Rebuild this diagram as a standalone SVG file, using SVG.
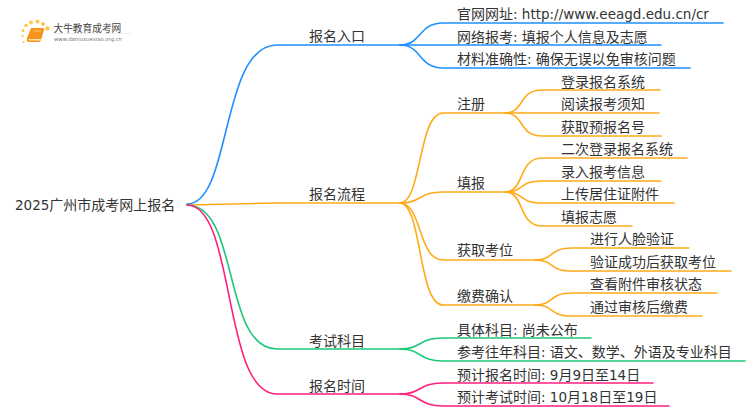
<svg xmlns="http://www.w3.org/2000/svg" width="750" height="410" viewBox="0 0 750 410">
<style>
text{font-family:"DejaVu Sans","Noto Sans CJK SC",sans-serif;font-size:14px;fill:#333}
tspan{font-size:13.5px}
.c{fill:none;stroke-width:1.6;stroke-linecap:round}
.b{stroke:#1e90ff}.o{stroke:#ffab19}.g{stroke:#1fc77a}.p{stroke:#ff1f7d}
</style>
<rect width="750" height="410" fill="#fff"/>
<g id="logo">
<g fill="#ffc64d"><circle cx="22.500" cy="36" r="1.200"/><circle cx="23" cy="30.500" r="1.500"/><circle cx="26" cy="25.500" r="1.700"/><circle cx="31" cy="22.500" r="2"/><circle cx="37.500" cy="21.500" r="2"/><circle cx="43" cy="24" r="2"/><circle cx="47.500" cy="28.500" r="2.200"/><circle cx="23.500" cy="42" r="1"/></g>
<path d="M31 28H43Q44.500 28 44 30L41 40Q40.500 42 38.500 42H29Q26 42 27 38Z" fill="#f7941d"/><path d="M28.500 39H41L40.500 40.500H29Z" fill="#ffe0a8"/><path d="M33 31H41" stroke="#ffd48a" stroke-width="0.800"/>
<text x="53.500" y="31.500" style="font-size:9.700px;fill:#444">大牛教育成考网</text>
<text x="54" y="41" style="font-size:5.300px;fill:#777">www.daniuxuexiao.org.cn</text>
<path d="M54 33.500H132" stroke="#e8e8e8" stroke-width="0.700"/>
</g>
<g id="connectors">
<path class="c b" d="M187 204C232 204 220 45 277 45H400"/>
<path class="c o" d="M187 205L277 203H400"/>
<path class="c g" d="M187 205C240 205 222 349 277 349H400"/>
<path class="c p" d="M187 205C236 205 222 394 277 394H400"/>
<path class="c b" d="M400 45C422 45 418 23 443 23H723"/>
<path class="c b" d="M400 45H661"/>
<path class="c b" d="M400 45C422 45 418 68 443 68H690"/>
<path class="c o" d="M400 203C422 203 418 113 443 113H505"/>
<path class="c o" d="M400 203C422 203 418 192 443 192H505"/>
<path class="c o" d="M400 203C422 203 418 260 443 260H535"/>
<path class="c o" d="M400 203C422 203 418 305 443 305H535"/>
<path class="c o" d="M505 113C525 113 518 90 542 90H660"/>
<path class="c o" d="M505 113H659"/>
<path class="c o" d="M505 113C525 113 518 136 542 136H661"/>
<path class="c o" d="M505 192C525 192 518 158 542 158H687"/>
<path class="c o" d="M505 192C525 192 518 181 542 181H661"/>
<path class="c o" d="M505 192C525 192 518 203 542 203H674"/>
<path class="c o" d="M505 192C525 192 518 226 542 226H632"/>
<path class="c o" d="M535 260C555 260 548 248 572 248H689"/>
<path class="c o" d="M535 260C555 260 548 271 572 271H731"/>
<path class="c o" d="M535 305C555 305 548 293 572 293H717"/>
<path class="c o" d="M535 305C555 305 548 316 572 316H702"/>
<path class="c g" d="M400 349C422 349 418 338 443 338H591"/>
<path class="c g" d="M400 349C422 349 418 361 443 361H745"/>
<path class="c p" d="M400 394C422 394 418 383 443 383H653"/>
<path class="c p" d="M400 394C422 394 418 406 443 406H669"/>
</g>
<g id="root"><text x="15" y="210"><tspan>2025</tspan>广州市成考网上报名</text></g>
<g id="n1"><text x="309" y="41">报名入口</text></g>
<g id="n2"><text x="309" y="199">报名流程</text></g>
<g id="n3"><text x="309" y="346">考试科目</text></g>
<g id="n4"><text x="309" y="391">报名时间</text></g>
<g id="n11"><text x="457" y="19">官网网址<tspan>: http://www.eeagd.edu.cn/cr</tspan></text></g>
<g id="n12"><text x="457" y="42">网络报考<tspan>: </tspan>填报个人信息及志愿</text></g>
<g id="n13"><text x="457" y="64">材料准确性<tspan>: </tspan>确保无误以免审核问题</text></g>
<g id="n21"><text x="457" y="109">注册</text></g>
<g id="n22"><text x="457" y="188">填报</text></g>
<g id="n23"><text x="457" y="255">获取考位</text></g>
<g id="n24"><text x="457" y="301">缴费确认</text></g>
<g id="n211"><text x="561" y="87">登录报名系统</text></g>
<g id="n212"><text x="561" y="109">阅读报考须知</text></g>
<g id="n213"><text x="561" y="132">获取预报名号</text></g>
<g id="n221"><text x="561" y="154">二次登录报名系统</text></g>
<g id="n222"><text x="561" y="177">录入报考信息</text></g>
<g id="n223"><text x="561" y="199">上传居住证附件</text></g>
<g id="n224"><text x="561" y="222">填报志愿</text></g>
<g id="n231"><text x="590" y="244">进行人脸验证</text></g>
<g id="n232"><text x="590" y="267">验证成功后获取考位</text></g>
<g id="n241"><text x="590" y="289">查看附件审核状态</text></g>
<g id="n242"><text x="590" y="312">通过审核后缴费</text></g>
<g id="n31"><text x="457" y="335">具体科目<tspan>: </tspan>尚未公布</text></g>
<g id="n32"><text x="457" y="357">参考往年科目<tspan>: </tspan>语文、数学、外语及专业科目</text></g>
<g id="n41"><text x="457" y="380">预计报名时间<tspan>: 9</tspan>月<tspan>9</tspan>日至<tspan>14</tspan>日</text></g>
<g id="n42"><text x="457" y="402">预计考试时间<tspan>: 10</tspan>月<tspan>18</tspan>日至<tspan>19</tspan>日</text></g>
</svg>
